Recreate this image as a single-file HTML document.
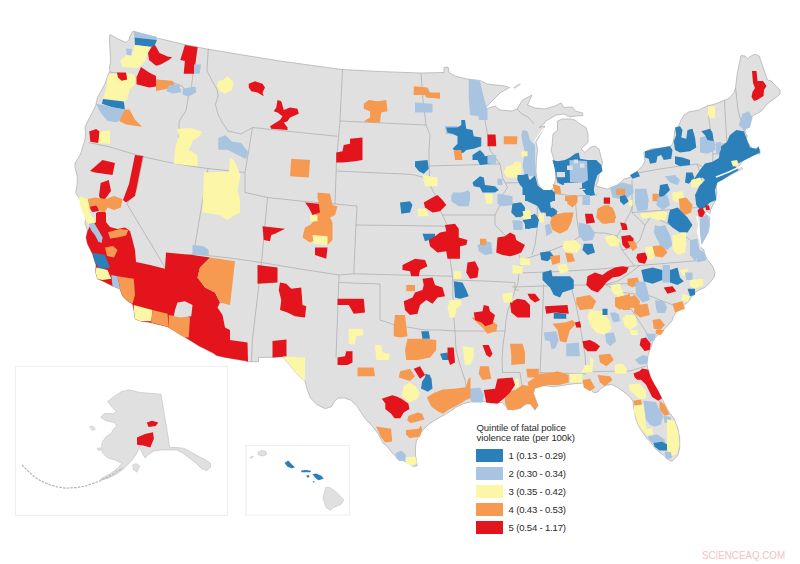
<!DOCTYPE html><html><head><meta charset="utf-8"><title>Map</title><style>html,body{margin:0;padding:0;background:#fff;}body{width:800px;height:564px;overflow:hidden;position:relative;font-family:"Liberation Sans",Arial,sans-serif;}svg{position:absolute;left:0;top:0;}</style></head><body>
<svg width="800" height="564" viewBox="0 0 800 564">
<polygon points="110,34.5 118,39 126,42.5 129,40 130,36 133,31 155,37.5 182,44 207,49 243,55 280,61 342,69.5 380,71.5 420,73 444,72.5 444,67.5 448,67 449,72.5 455,76 467,79 480,80.5 487.5,84 505,86 509.5,87.5 500,93 492,101 484,109.5 495,106 500,110 512,111 517,109 520,104 522.5,100 532,95 527.5,105 535,108 545,109 555,106 561,103 564,107.5 572.5,107 575,111 582.5,113 583,115.6 575,116 570,117 564,114 556,115 551,118 546,121 544,124 539,127.5 545,126 540,135 536,142 537.7,150 536.4,158.9 536,172 537.7,182.8 541.3,189 544.8,192.6 548.4,192.6 553.7,187.2 555.5,179.3 556,167.7 553.7,158.9 551,150 552,146 553,134 557.5,130 557.5,121 562.5,119 566,119 570,119 575,120 580,124 586,127.5 588,134 588,142.5 584,146 581,149 585,152.5 590,147.5 595,146 599,149 600.6,155 602.6,163 599.6,171 598,181.5 596,186 601,187.5 607.5,189 617.5,185 624,179 630,177.5 632.5,174 637.5,171 642.5,166 645,161 643.75,152.5 651,149 661,148 671,146 673,143 674,137.5 675,130 679,125 681,120 684,115 688.6,112 699,110 707,106 715,104 727.5,99 730,97.5 734,92.5 735.6,87.5 737,75 739,65 741,55.6 745,56 747.5,58.75 752.5,55 756,54.4 759,56 761,61 764,70 767.5,80 771,81 775,85 780,90 780,94 776,97.5 771,101 766,105 762.5,110 759,112.5 752.5,116 749,121 745.6,127.5 745,132.5 747.5,136 745,140 749,144 752.5,149 756,150 758,147.5 760,150 760,154 756,154 751,155 747.5,157.5 742.5,161 740,165 737.5,167.5 734,170 729,171.5 722,174.5 717,177.5 715,180 716,185.3 717,193.3 715.6,200.4 712.5,205.7 710.7,210 709.8,213.7 707,211 704.5,213.5 709.8,217.2 709,224.3 708,230 707.5,232.5 705,237.5 703,241 701,245 701,247.5 704,250 704,252.5 707.5,260 712.5,266 715,272.5 714,277.5 710,282.5 705,287.5 699,290 695,292.5 691,297.5 687.5,302.5 681,307.5 676,312.5 673,317.5 672.5,320 667.5,326 662.5,331 657.5,335 654,339 652.5,342.5 651,347.5 649,352.5 647.5,357.5 647,364 648,370 649,375 650.5,381.5 656.3,391.2 662.2,399 668,410.7 673.9,418.5 677.8,428.3 679.7,438 679.7,447.8 677.8,455.6 671.9,461.4 668,459.5 664,455.6 656.3,449.7 650.5,442 646.6,438 642.7,432.2 638.8,426.3 635.8,418.5 633.9,408.8 632.9,401 629,396 623,391.2 617.3,387.3 611.5,384.4 605.6,385.4 599.8,389.3 598,392 593.5,392.75 589,386 583,383 574,383.75 568,384.5 559,386 553,386.75 547,386 541,385 535,387.5 533.5,393.5 538,405.5 535,410 530.5,404 526,404 520,408.5 512.5,410 506.5,407 502,402.5 496,402.5 490,403 486.4,402 479.3,401 470.4,402 463.3,403.7 456.2,407.2 451,410.8 445.6,414.3 440.3,417 433.2,421.4 427.9,425 422.6,430.3 419,435.6 416.3,441 415.5,448 415.5,455 416.3,460.4 417.2,465.7 413.7,466.6 406.6,462.2 399.5,458.7 392.4,453.3 387,446.2 383,443 378.5,434.3 372,425.7 365.7,419.4 361.5,413 357.2,406.6 350.9,400.2 344.5,398 338,398 333.8,402.3 331.7,406.6 325.3,408.7 316.8,404.5 310.4,398 307.2,389.6 305,381 297.7,374.7 291.3,367 282.8,356.6 272.5,357.4 258.5,357.4 258.5,361.75 248,361.75 246,361 225,357.4 216.5,355.6 213,353 199,346 185,337.25 167.5,326.75 150,322.5 140,321 135,319 134,311 132.5,304 127.5,301 122.5,296 120,289 112.5,286 102.5,281 97.5,279 95.6,272.5 96,265 94,259 92.5,254 90,249 87.5,244 86,237.5 87.5,231 85,223 86,217 84,211 82.5,205 80,199 77.5,196 75.6,192.5 77,186 77.5,177.5 75,167.5 75,163 77,160 80,155 81,152.5 83,146 85,140 85.6,132.5 85,127.5 87,122.5 91,115 95.6,106 97.5,97.5 101,91 105,83.75 108,75 110,71 109.4,66.9 110.6,62.5 110,50 109.4,40" fill="#e0e0e0" stroke="#acacac" stroke-width="0.7"/>
<polygon points="513.5,87.5 519,83.8 520.5,84.5 515,88.3" fill="#e0e0e0" stroke="#acacac" stroke-width="0.4"/>
<polygon points="716,178 728,173 740.5,167 743,168.5 730,175.5 717,181.5" fill="#e0e0e0" stroke="#acacac" stroke-width="0.5"/>
<polyline points="109.5,72 122,73.5 135,76 154,79.6 172,82 182,86 189,95" fill="none" stroke="#a9a9a9" stroke-width="0.7"/>
<polyline points="197.5,46.5 193,74 191,90 189,95" fill="none" stroke="#a9a9a9" stroke-width="0.7"/>
<polyline points="189,95 188.3,96.8 186,110.7 181,118 179,122 179,134 177,160" fill="none" stroke="#a9a9a9" stroke-width="0.7"/>
<polyline points="88.75,142.5 110,147 130,153 144,157 172,163 190,166 208,168.5 245,172.5" fill="none" stroke="#a9a9a9" stroke-width="0.7"/>
<polyline points="143.5,155.8 136.5,190 127,204 165.4,268" fill="none" stroke="#a9a9a9" stroke-width="0.7"/>
<polyline points="165.4,268 167,256 180,256 193.5,254" fill="none" stroke="#a9a9a9" stroke-width="0.7"/>
<polyline points="208,168.5 193.5,254" fill="none" stroke="#a9a9a9" stroke-width="0.7"/>
<polyline points="193.5,254 230,258 261.5,262.5" fill="none" stroke="#a9a9a9" stroke-width="0.7"/>
<polyline points="267.5,197.5 261.5,262.5 252.4,340 251.5,361.5" fill="none" stroke="#a9a9a9" stroke-width="0.7"/>
<polyline points="245,172.5 245,192.5 267.5,197.5" fill="none" stroke="#a9a9a9" stroke-width="0.7"/>
<polyline points="252.5,127.5 245,172.5" fill="none" stroke="#a9a9a9" stroke-width="0.7"/>
<polyline points="208.3,48.5 206.9,70.5 212.6,81.8 216.8,88.9 218.2,96 215.4,104.5 218.2,115 222,122 228,131 241,134 252.5,127.5" fill="none" stroke="#a9a9a9" stroke-width="0.7"/>
<polyline points="252.5,127.5 295,132 337.5,136.3" fill="none" stroke="#a9a9a9" stroke-width="0.7"/>
<polyline points="342.5,69.5 340,121 336.5,160 335,204" fill="none" stroke="#a9a9a9" stroke-width="0.7"/>
<polyline points="340,121 383,123 426,125" fill="none" stroke="#a9a9a9" stroke-width="0.7"/>
<polyline points="267.5,197.5 300,201 335,204 357,206" fill="none" stroke="#a9a9a9" stroke-width="0.7"/>
<polyline points="336.5,171 380,173 405,174 415,175 423.75,177.5 430,185" fill="none" stroke="#a9a9a9" stroke-width="0.7"/>
<polyline points="421,73 423,100 426,125" fill="none" stroke="#a9a9a9" stroke-width="0.7"/>
<polyline points="426,125 430,135 429,150 429,166 430,185" fill="none" stroke="#a9a9a9" stroke-width="0.7"/>
<polyline points="429,166 465,165 500,164" fill="none" stroke="#a9a9a9" stroke-width="0.7"/>
<polyline points="430,185 435,195 437.5,205 442.5,215 447.5,226" fill="none" stroke="#a9a9a9" stroke-width="0.7"/>
<polyline points="356,225 400,225.5 447.5,226.25" fill="none" stroke="#a9a9a9" stroke-width="0.7"/>
<polyline points="357,206 356,225 353.75,273.75" fill="none" stroke="#a9a9a9" stroke-width="0.7"/>
<polyline points="353.75,273.75 400,275 452.5,276.25" fill="none" stroke="#a9a9a9" stroke-width="0.7"/>
<polyline points="261.5,262.5 300,269 339,275 353.75,273.75" fill="none" stroke="#a9a9a9" stroke-width="0.7"/>
<polyline points="339,275 336,357.5" fill="none" stroke="#a9a9a9" stroke-width="0.7"/>
<polyline points="339,282.5 360,283.3 380,284" fill="none" stroke="#a9a9a9" stroke-width="0.7"/>
<polyline points="380,284 380,320 395,325 410,327.5 425,330 440,330 455,331" fill="none" stroke="#a9a9a9" stroke-width="0.7"/>
<polyline points="455,331 456,350 460,365 465,380 468,400" fill="none" stroke="#a9a9a9" stroke-width="0.7"/>
<polyline points="455,331 480,331 505,331" fill="none" stroke="#a9a9a9" stroke-width="0.7"/>
<polyline points="452.5,276.25 453,300 454,320 455,331" fill="none" stroke="#a9a9a9" stroke-width="0.7"/>
<polyline points="452.5,280 485,281 515,282.5 515,290 519,290" fill="none" stroke="#a9a9a9" stroke-width="0.7"/>
<polyline points="447.5,226.25 447,236 452.5,276.25" fill="none" stroke="#a9a9a9" stroke-width="0.7"/>
<polyline points="442.5,215 470,215 495,215" fill="none" stroke="#a9a9a9" stroke-width="0.7"/>
<polyline points="500,164 502.5,177.5 507.5,187.5 502.5,195 500,205 495,215 495,225 505,235 513.75,240 517.5,250 521,261 519,272 518,283 515,290 512,300 508,310 506,320 505,331 503,345 502,360 502.5,372.5 520,372.5 522.5,390" fill="none" stroke="#a9a9a9" stroke-width="0.7"/>
<polyline points="543.75,284 542,330 540,372.5 539,386" fill="none" stroke="#a9a9a9" stroke-width="0.7"/>
<polyline points="570,282 576,305 580,325 585,355 586,372" fill="none" stroke="#a9a9a9" stroke-width="0.7"/>
<polyline points="540,372.5 586,374" fill="none" stroke="#a9a9a9" stroke-width="0.7"/>
<polyline points="586,372 600,371.5 630,371 646,366" fill="none" stroke="#a9a9a9" stroke-width="0.7"/>
<polyline points="512,287 560,285.5 605,284.5 630,283.5" fill="none" stroke="#a9a9a9" stroke-width="0.7"/>
<polyline points="519,273 560,271.5 600,269 640,265.5 705,260" fill="none" stroke="#a9a9a9" stroke-width="0.7"/>
<polyline points="640,265.5 630,273 618,281 605,284.5" fill="none" stroke="#a9a9a9" stroke-width="0.7"/>
<polyline points="520,260 528,258 540,254 552,250 565,245 572,242 580,236 588,230 597,233 605,233 617,236 622,228 625,222 630,213 633,205" fill="none" stroke="#a9a9a9" stroke-width="0.7"/>
<polyline points="537.5,193 537,230 535,245 532,255" fill="none" stroke="#a9a9a9" stroke-width="0.7"/>
<polyline points="575,196 577,220 580,238" fill="none" stroke="#a9a9a9" stroke-width="0.7"/>
<polyline points="548,193 575,196 597,195" fill="none" stroke="#a9a9a9" stroke-width="0.7"/>
<polyline points="632,180 632,212.5" fill="none" stroke="#a9a9a9" stroke-width="0.7"/>
<polyline points="632,212.5 665,210 697.5,207.5" fill="none" stroke="#a9a9a9" stroke-width="0.7"/>
<polyline points="637,173 660,169 680,166 697,164" fill="none" stroke="#a9a9a9" stroke-width="0.7"/>
<polyline points="697,164 702,178 696,195 700,207" fill="none" stroke="#a9a9a9" stroke-width="0.7"/>
<polyline points="697,164 712,172" fill="none" stroke="#a9a9a9" stroke-width="0.7"/>
<polyline points="712,172 713,155 712,145 707.5,106" fill="none" stroke="#a9a9a9" stroke-width="0.7"/>
<polyline points="724.5,100.5 725.5,120 727,143.5" fill="none" stroke="#a9a9a9" stroke-width="0.7"/>
<polyline points="712,145 727,143.5 742,140" fill="none" stroke="#a9a9a9" stroke-width="0.7"/>
<polyline points="735.6,87.5 738,110 742,125 745,133" fill="none" stroke="#a9a9a9" stroke-width="0.7"/>
<polyline points="713,154 733,152.5" fill="none" stroke="#a9a9a9" stroke-width="0.7"/>
<polyline points="733,152.5 733,162" fill="none" stroke="#a9a9a9" stroke-width="0.7"/>
<polyline points="505,183 537,182" fill="none" stroke="#a9a9a9" stroke-width="0.7"/>
<polyline points="517,109 522,114 528,117 534,124" fill="none" stroke="#a9a9a9" stroke-width="0.7"/>
<polyline points="484,110 485,120 487,132 490,150 497,160 500,164" fill="none" stroke="#a9a9a9" stroke-width="0.7"/>
<polyline points="701,215 701,232 708,232" fill="none" stroke="#a9a9a9" stroke-width="0.7"/>
<polyline points="620,292 650,296 660,300 680,307.5" fill="none" stroke="#a9a9a9" stroke-width="0.7"/>
<polyline points="620,292 633,312 645,330 650,340" fill="none" stroke="#a9a9a9" stroke-width="0.7"/>
<polyline points="605,284.5 620,292" fill="none" stroke="#a9a9a9" stroke-width="0.7"/>
<polyline points="617,236 622,250 634,265.5" fill="none" stroke="#a9a9a9" stroke-width="0.7"/>
<polyline points="632,212.5 645,225 652,215 660,220 670,225 680,232 690,240 698,245" fill="none" stroke="#a9a9a9" stroke-width="0.7"/>
<polyline points="645,225 640,240 632,248 622,250" fill="none" stroke="#a9a9a9" stroke-width="0.7"/>
<polygon points="133.5,31.3 156,36.5 157,40 134.5,37.5" fill="#a8c4e0"/>
<polygon points="134.5,37.5 157,40 154,47 135,45" fill="#2b80ba"/>
<polygon points="135.3,45 151.4,47.3 148,53 146.8,56 144.5,62.3 137.6,68 122.6,66.9 120.3,61.1 126.1,55.4 133,51.9 134.2,46.1" fill="#fcf7a6"/>
<polygon points="126,48.4 131.9,49 131.5,55.4 127,55" fill="#a8c4e0"/>
<polygon points="151.4,47.3 155,45 159.5,53 167.6,56.5 172.2,57.2 168.7,60 160.7,64.6 156,65.7 149.1,60 148,53" fill="#e3141c"/>
<polygon points="184.9,45 197.5,47.3 194.1,73.8 183.7,73.8 184.9,61.1 180.3,60" fill="#e3141c"/>
<polygon points="194,64.6 201,64.6 199.8,73.8 194,73.8" fill="#a8c4e0"/>
<polygon points="110,74 118,73.5 126.1,72.6 135.3,74.9 135.3,84.2 129.5,89.9 127.2,99.1 123.8,101.4 103,99.1 106.5,87.6 107.7,76.1" fill="#fcf7a6"/>
<polygon points="141,66.9 149.1,72.6 156,76.1 156,86.5 149.1,87.6 136.5,84.2 136.5,77.2" fill="#e3141c"/>
<polygon points="156,79.6 172.2,80.7 174.5,84.2 167.6,88.8 156,91.1" fill="#f59a50"/>
<polygon points="168.7,85.3 179.1,84.2 181.4,92.2 172.2,93.4 166.4,91.1" fill="#a8c4e0"/>
<polygon points="182.6,88.8 195.2,86.5 196.4,92.2 188.3,96.8 182.6,94.5" fill="#a8c4e0"/>
<polygon points="116.9,72.6 126.1,72.6 127.2,79.6 121.5,80.7 118,77.2" fill="#e3141c"/>
<polygon points="103,99.1 123.8,101.4 124.9,109.5 112.3,107.2 101.9,103.7" fill="#2b80ba"/>
<polygon points="96.1,103.7 103,104.9 112.3,107.2 124.9,109.5 122.6,116.4 116.9,122.2 107.7,121 100.7,113" fill="#a8c4e0"/>
<polygon points="124.9,109.5 129.5,109.5 135.3,119.9 142.2,126.8 126.1,124.5 119.2,121" fill="#f59a50"/>
<polygon points="89.2,131.4 96.1,129.1 99.6,131.4 98.4,142.9 90.4,141.8" fill="#e3141c"/>
<polygon points="99.6,131.4 110,130.3 110,144.1 98.4,142.9" fill="#fcf7a6"/>
<polygon points="218.3,80.7 224,79.6 227.5,76.1 233.3,81.9 232.1,89.9 225.2,93.4 219.4,91.1 217.1,85.3" fill="#fcf7a6"/>
<polygon points="176.8,129.1 190.6,128 202.1,131.4 199.8,136 192.9,140.6 188.75,150 197.5,155 197.5,166.25 185,165 173.75,163.75 175,152.5 175.6,145.2 179.1,136" fill="#fcf7a6"/>
<polygon points="218.3,138.3 225.2,134.9 232.1,141.8 241.3,142.9 248.2,152.1 245.9,159 236.7,154.5 227.5,149.8 218.3,149.8" fill="#a8c4e0"/>
<polygon points="90,171 102.5,160 115,163 112.5,175 95,172.5" fill="#e3141c"/>
<polygon points="135,155 143,156 136,191 135,196 126,202.5 123,200 129,184" fill="#e3141c"/>
<polygon points="100.6,183 108.75,180 111,191 102.5,202.5 99,196" fill="#e3141c"/>
<polygon points="87.5,199 95,197.5 106,199 114,196 122.5,199 121,207.5 114,210 107.5,207.5 104,214 97.5,209 90,210" fill="#f59a50"/>
<polygon points="90,207.5 97,206.5 99,211 92,212" fill="#e3141c"/>
<polygon points="97.5,212.5 106,212.5 105,222.5 97.5,222.5" fill="#e3141c"/>
<polygon points="79,196 87.5,199 90,210 89,217.5 82.5,212.5" fill="#fcf7a6"/>
<polygon points="752,71 756.5,71 757.5,81 763,81 766.5,86 764,90 763.5,96 758,99.5 754,101 751.5,97 752.5,92 755,88 753,83" fill="#e3141c"/>
<polygon points="248.75,83.75 255,81.25 262.5,83.75 265,87.5 262.5,92.5 263.75,96.25 257.5,92.5 251.25,91.25 248.75,87.5" fill="#e3141c"/>
<polygon points="277.5,100 281.25,101.25 283.75,110 290,107.5 297.5,108.75 298.75,113.75 290,117.5 287.5,121.25 283.75,122.5 287.5,127.5 287.5,130 271.25,128.75 270,126.25 280,120 282.5,116.25 277.5,112.5 273.75,111.25 276.25,107.5" fill="#e3141c"/>
<polygon points="363.75,103.75 368.75,100 377.5,101.25 386.25,100 387.5,111.25 381.25,112.5 380,122.5 371.25,122.5 363.75,121.25 370,117.5 370,111.25 363.75,108.75" fill="#f59a50"/>
<polygon points="413.75,86.25 427.5,87.5 430,92.5 440,92.5 440,98.75 426.25,97.5 425,95 413.75,95" fill="#f59a50"/>
<polygon points="415,102.5 432.5,103.75 432.5,112.5 415,112.5" fill="#a8c4e0"/>
<polygon points="350,138.75 362.5,137.5 362.5,160 355,161.25 342.5,162.5 336.25,162.5 336.25,152.5 342.5,151.25 343.75,145 350,143.75" fill="#e3141c"/>
<polygon points="291.25,158.75 310,160 308.75,177.5 290,176.25" fill="#f59a50"/>
<polygon points="415,161.25 427.5,160 428.75,168.75 423.75,173.75 418.75,171.25 415,166.25" fill="#2b80ba"/>
<polygon points="422.5,175 437.5,177.5 437.5,186.25 425,186.25" fill="#fcf7a6"/>
<polygon points="468.75,78.75 480,81.25 483.75,97.5 487.5,110 487.5,120 478.75,120 478.75,116.25 470,115 468.75,97.5" fill="#a8c4e0"/>
<polygon points="445,126 458,126 458,135 446,134" fill="#a8c4e0"/>
<polygon points="461.25,120 465,120 466.25,128.75 472.5,130 473.75,136.25 481.25,137.5 481.25,146.25 473.75,148.75 466.25,150 463.75,152.5 458.75,153.75 452.5,148.75 457.5,143.75 457.5,136.25 452.5,133.75 447.5,132.5 446.25,127.5 457.5,127.5 461.25,125" fill="#2b80ba"/>
<polygon points="453.75,150 461.25,150 462.5,160 455,160" fill="#f59a50"/>
<polygon points="472.5,155 480,150 483.75,153.75 485,156.25 493.75,155 496.25,160 490,163.75 480,165 477.5,160 472.5,160" fill="#2b80ba"/>
<polygon points="487.5,134.5 495.5,134.5 496.25,146.25 487.5,146.25" fill="#e3141c"/>
<polygon points="503.75,136.25 517.5,136.25 517,144.25 503.75,144.25" fill="#f59a50"/>
<polygon points="522.5,130 527.5,131.25 530,140 535,145 535,160 536.25,175 525,177.5 522.5,165 525,152.5 522.5,142.5 521.25,135" fill="#a8c4e0"/>
<polygon points="521.25,151.25 527.5,151.25 527.5,156.25 521.25,156.25" fill="#fcf7a6"/>
<polygon points="506.25,166.25 512.5,165 515,161.25 521.25,162.5 521.25,172.5 516.25,177.5 507.5,177.5 503.75,172.5" fill="#fcf7a6"/>
<polygon points="518.75,175 525,175 530,180 535,175 537.5,185 542.5,192.5 555,193.75 555,201 525,201 525,190 520,185 517.5,180" fill="#2b80ba"/>
<polygon points="472.5,182.5 480,176.25 483.75,177.5 485,185 495,186.25 498.75,190 495,192.5 482.5,192.5 480,187.5 473.75,186.25" fill="#2b80ba"/>
<polygon points="452.5,192.5 470,192.5 470,201 452.5,201" fill="#a8c4e0"/>
<polygon points="497.5,178.75 502.5,178.75 502.5,185 497.5,185" fill="#a8c4e0"/>
<polygon points="552.5,160 557.5,161.25 565,160 570,157.5 575,153.75 578.75,152.5 580,158.75 587.5,160 592.5,160 596.25,160 601.25,165 602.5,171.25 597.5,175 595,182.5 593.75,190 593.75,195 587.5,195 585,188.75 580,188.75 575,185 567.5,183.75 562.5,185 557.5,182.5 556.25,177.5 555,170" fill="#2b80ba"/>
<polygon points="569.5,160 587,161 588,180 583,183 570,182" fill="#a8c4e0"/>
<polygon points="556.7,172 565,172 565,177.2 556.7,177.2" fill="#e0e0e0"/>
<polygon points="567,165.5 572.7,165.5 572.7,170 567,170" fill="#e0e0e0"/>
<polygon points="573.7,159.5 578,159.5 578,163.4 573.7,163.4" fill="#e0e0e0"/>
<polygon points="580,163.4 584.4,163.4 584.4,167.7 580,167.7" fill="#e0e0e0"/>
<polygon points="564,183 582,182.5 582,188 565,188.5" fill="#e0e0e0"/>
<polygon points="565,196 577.5,196 577.5,201 565,201" fill="#f59a50"/>
<polygon points="645,151.25 655,148.75 662.5,147.5 670,146.25 672.5,150 671.25,158.75 663.75,160 661.25,155 657.5,156.25 656.25,162.5 650,163.75 648.75,158.75 645,157.5" fill="#2b80ba"/>
<polygon points="675,127.5 680,126.25 682.5,130 681.25,137.5 686.25,138.75 687.5,130 692.5,128.75 695,137.5 696.25,147.5 690,151.25 680,152.5 675,150 673.75,141.25 676.25,135" fill="#2b80ba"/>
<polygon points="675,156.25 682.5,157.5 690,160 690,165 680,166.25 675,163.75" fill="#2b80ba"/>
<polygon points="700,137.5 710,135 715,142.5 715,150 707.5,153.75 700,152.5" fill="#a8c4e0"/>
<polygon points="701.25,131.25 710,128.75 712.5,132.5 713.75,141.25 707.5,140 705,135" fill="#2b80ba"/>
<polygon points="707.5,106.25 715,106.25 715,117.5 710,118.75 707.5,113.75" fill="#fcf7a6"/>
<polygon points="742.5,113.75 748.75,111.25 752.5,117.5 750,127.5 743.75,130 738.75,125" fill="#a8c4e0"/>
<polygon points="730,135 736.25,130 743.75,131.25 746.25,137.5 750,147.5 756.25,148.75 758.75,146.25 760,152.5 750,157.5 740,162.5 735,166.25 738.75,170 730,175 722.5,180 717.5,182.5 715,190 716.25,200 710,202.5 705,207.5 700,210 696.25,205 695,195 700,185 705,180 702.5,177.5 695,180 692.5,172.5 686.25,172.5 685,182.5 688.75,183.75 695,177.5 700,170 705,163.6 712,162 719,158 720,147 727,142 729.4,136" fill="#2b80ba"/>
<polygon points="731,161 737,160 739,165 733,166.5" fill="#fcf7a6"/>
<polygon points="716,142.5 721,142 721,150 717,155 715.5,150" fill="#a8c4e0"/>
<polygon points="691.25,180 700,177.5 702.5,182.5 697.5,187.5 691.25,187.5" fill="#fcf7a6"/>
<polygon points="665,176.25 675,175 680,180 677.5,185 670,182.5" fill="#a8c4e0"/>
<polygon points="660,185 667.5,183.75 670,190 665,195 661.25,200 658.75,195" fill="#2b80ba"/>
<polygon points="652.5,193.75 658.75,193.75 658.75,201.25 652.5,201.25" fill="#f59a50"/>
<polygon points="635,188.75 646.25,188.75 648.75,200 647.5,210 637.5,211.25 635,202.5" fill="#a8c4e0"/>
<polygon points="610,187.5 622.5,182.5 632.5,185 633.75,192.5 625,200 612.5,197.5" fill="#a8c4e0"/>
<polygon points="616.25,188.75 625,188.75 625,195 616.25,195" fill="#f59a50"/>
<polygon points="620,196.25 625,195 628.75,201.25 623.75,205 620,201.25" fill="#2b80ba"/>
<polygon points="628.75,200 632.5,200 632.5,206.25 628.75,206.25" fill="#fcf7a6"/>
<polygon points="630,175 637.5,171.25 640,176.25 632.5,178.75" fill="#2b80ba"/>
<polygon points="600,207.5 608.75,205 615,212.5 615,222.5 605,223.75 600,220" fill="#f59a50"/>
<polygon points="603.75,197.5 610,197.5 610,203.75 603.75,203.75" fill="#e3141c"/>
<polygon points="621.25,222.5 626.25,223.75 627.5,228.75 622.5,230" fill="#e3141c"/>
<polygon points="640,213.75 652.5,212.5 662.5,211.25 667.5,212.5 665,220 657.5,220 650,217.5 642.5,218.75" fill="#fcf7a6"/>
<polygon points="672.5,192.5 682.5,191.25 685,200 677.5,202.5 672.5,200" fill="#fcf7a6"/>
<polygon points="678.75,198.75 686.25,197.5 692.5,205 691.25,212.5 685,215 680,210" fill="#f59a50"/>
<polygon points="670,210 677.5,207.5 682.5,212.5 687.5,217.5 692.5,225 687.5,232.5 680,232.5 672.5,227.5 667.5,222.5 668.75,215" fill="#2b80ba"/>
<polygon points="697.5,210 702.5,207.5 705,212.5 702.5,217.5 698.75,216.25" fill="#e3141c"/>
<polygon points="705,205 709,205.5 710,210 706,210" fill="#e3141c"/>
<polygon points="700.5,217.5 707.5,215 710,225 708.5,232.5 705,239 701.5,245 700,235 700,225" fill="#a8c4e0"/>
<polygon points="655,225 662.5,227.5 667.5,235 657.5,240 653.75,232.5" fill="#a8c4e0"/>
<polygon points="680,232.5 686,232.5 686,240 680,240" fill="#fcf7a6"/>
<polygon points="204,172.5 229,171.5 230,157.5 234,160 237,167 240.5,175 239,183 237.5,190 240,200 240,212.5 235,215 227,220 220,215 202.5,212.5 203,195" fill="#fcf7a6"/>
<polygon points="262.5,226.25 285,228.75 275,233.75 271.25,235 270,241.25 263.75,240" fill="#e3141c"/>
<polygon points="317.5,192.5 330,193.75 332.5,205 337.5,206.25 335,215 330,217.5 332.5,222.5 332.5,240 327.5,245 315,240 310,242.5 302.5,237.5 305,227.5 310,225 315,220 316.25,210 318.75,202.5 317.5,197.5" fill="#f59a50"/>
<polygon points="305,202.5 318.75,203.75 320,212.5 312.5,215 308.75,207.5" fill="#e3141c"/>
<polygon points="310,215 317.5,215 317.5,221.25 310,221.25" fill="#fcf7a6"/>
<polygon points="312.5,235 327.5,236.25 327.5,245 313.75,243.75" fill="#fcf7a6"/>
<polygon points="315,247.5 327.5,247.5 326.25,258.75 315,255" fill="#e3141c"/>
<polygon points="192.5,245 203.75,246.25 208.75,250 208.75,255 192.5,255" fill="#a8c4e0"/>
<polygon points="96,213 106,213 106,222 110,227 117.5,229 125,227.5 130,231 132.5,240 135,250 136,262 150,265 165,268.75 166,252.5 192.5,255 210,257.5 200,267.5 197.5,277.5 205,287.5 215,292.5 220,302.5 217.5,307.5 222.5,315 225,327.5 230,330 230,340 247.5,342.5 248,361.75 246,361 225,357.4 216.5,355.6 213,353 199,346 185,337.25 167.5,326.75 150,322.5 140,321 135,319 134,311 132.5,304 127.5,301 122.5,296 120,289 112.5,286 102.5,281 97.5,279 95.6,272.5 96,265 94,259 92.5,254 90,249 87.5,244 86,237.5 87.5,231 90,226 96,222" fill="#e3141c"/>
<polygon points="79.3,198.2 87.8,199.3 87.8,211 96.3,221.6 91,225.9 86.7,222.7 83.5,214.1 80,205" fill="#fcf7a6"/>
<polygon points="89.9,206.7 96.3,205.6 98.4,209.9 93.1,212" fill="#e3141c"/>
<polygon points="97.3,212 104.8,212 105.9,221.6 100.5,225.9 97.3,221.6" fill="#e3141c"/>
<polygon points="88.8,223.7 94.1,222.7 98.4,230.1 102.7,237.6 101.6,242.9 98.4,241.8 95.2,235.4 91,230.1" fill="#a8c4e0"/>
<polygon points="108,232.2 119.7,229 128.2,230.1 126.1,235.4 117.6,237.6 110.1,238.6" fill="#f59a50"/>
<polygon points="105,247.5 113,246 117.5,250 114,257.5 107,256" fill="#f59a50"/>
<polygon points="92.5,252.5 105,255 110,267.5 100,270 95,262.5" fill="#2b80ba"/>
<polygon points="96.25,267.5 107.5,270 111.25,278.75 102.5,280 97.5,279 95.6,272.5" fill="#fcf7a6"/>
<polygon points="111.25,275 117.5,276.25 120,287.5 120,289 112.5,286.25" fill="#a8c4e0"/>
<polygon points="117.5,276.25 133.75,278.75 135,295 132.5,303.75 127.5,301 122.5,296 120,289 120,287.5" fill="#f59a50"/>
<polygon points="133.75,305 152.5,310 151.25,321.25 140,321 135,319 134,311" fill="#fcf7a6"/>
<polygon points="152.5,310 167.5,313.75 168.75,327.5 167.5,326.75 151.25,322.5 151.25,321.25" fill="#f59a50"/>
<polygon points="168.75,315 176.25,316.25 185,315 190,317.5 188.75,337.5 185,337.25 180,335 168.75,327.5" fill="#f59a50"/>
<polygon points="177.5,302.5 185,301.25 192.5,305 191.25,316.25 180,317.5 173.75,316.25 175,310" fill="#e0e0e0"/>
<polygon points="210,257.5 235,261.25 230,305 220,302.5 215,292.5 205,287.5 197.5,277.5 200,267.5" fill="#f59a50"/>
<polygon points="257.5,265 277.5,267.5 277.5,282.5 257.5,283.75" fill="#e3141c"/>
<polygon points="272.5,341 286.5,339.5 286.5,356.5 272.5,357.4" fill="#e3141c"/>
<polygon points="400,202.5 410,201.25 412.5,205 410,212.5 401.25,213.75" fill="#2b80ba"/>
<polygon points="423.75,202.5 432.5,197.5 437.5,195 442.5,200 446.25,205 440,211.25 432.5,212.5 425,207.5" fill="#e3141c"/>
<polygon points="417.5,208.75 426.25,208.75 428.75,216.25 418.75,216.25" fill="#fcf7a6"/>
<polygon points="451.25,195 462.5,192.5 468.75,190 470,197.5 468.75,206.25 458.75,206.25 451.25,201.25" fill="#a8c4e0"/>
<polygon points="485,193.75 492.5,193.75 492.5,203.75 486.25,203.75" fill="#fcf7a6"/>
<polygon points="497.5,195 510,196.25 512.5,203.75 500,206.25" fill="#a8c4e0"/>
<polygon points="512.5,203.75 520,202.5 525,207.5 525,215 516.25,217.5 511.25,212.5" fill="#2b80ba"/>
<polygon points="522.5,211.25 530,210 530,221.25 523.75,220" fill="#fcf7a6"/>
<polygon points="512.5,220 522.5,221.25 522.5,230 513.75,230" fill="#a8c4e0"/>
<polygon points="525,222.5 530,221.25 530,228.75 525,228.75" fill="#2b80ba"/>
<polygon points="522.5,180 530,180 530,195 522.5,195" fill="#2b80ba"/>
<polygon points="422.5,233.75 435,233.75 435,241.25 428.75,240 425,241.25" fill="#2b80ba"/>
<polygon points="445,225 455,223.75 458.75,228.75 458.75,237.5 467.5,240 466.25,245 460,246.25 460,258.75 447.5,258.75 446.25,251.25 437.5,252.5 430,246.25 428.75,240 435,236.25 440,232.5 446.25,231.25" fill="#e3141c"/>
<polygon points="477.5,245 486.25,241.25 491.25,242.5 492.5,253.75 485,255 478.75,251.25" fill="#a8c4e0"/>
<polygon points="480,238.75 486.25,238.75 486.25,245 480,245" fill="#f59a50"/>
<polygon points="497.5,237.5 505,236.25 510,232.5 515,235 516.25,240 525,245 521.25,252.5 515,255 510,256.25 502.5,255 496.25,252.5" fill="#e3141c"/>
<polygon points="402.5,265 415,258.75 425,260 427.5,266.25 420,270 418.75,276.25 411.25,276.25 410,271.25 402.5,270" fill="#e3141c"/>
<polygon points="467.5,262.5 475,261.25 478.75,268.75 477.5,277.5 470,278.75 466.25,272.5" fill="#e3141c"/>
<polygon points="453.75,271.25 461.25,271.25 461.25,278.75 453.75,278.75" fill="#fcf7a6"/>
<polygon points="453.75,281.25 462.5,282.5 466.25,290 468.75,296.25 460,298.75 455,297.5" fill="#2b80ba"/>
<polygon points="450,300 461.25,300 461.25,305 456.25,308.75 455,317.5 450,317.5 447.5,307.5" fill="#fcf7a6"/>
<polygon points="422.5,278.75 432.5,277.5 435,285 442.5,287.5 445,296.25 437.5,297.5 432.5,303.75 426.25,300 420,305 417.5,313.75 410,315 405,310 403.75,301.25 412.5,297.5 415,292.5 422.5,290 423.75,285" fill="#e3141c"/>
<polygon points="406.25,285 415,285 415,291.25 406.25,291.25" fill="#f59a50"/>
<polygon points="337.5,298.75 363.75,298.75 365,312.5 353.75,313.75 348.75,305 337.5,305" fill="#e3141c"/>
<polygon points="510,302.5 517.5,298.75 525,300 530,305 530,317.5 517.5,317.5 511.25,312.5" fill="#e3141c"/>
<polygon points="502.5,293.75 512.5,292.5 512.5,302.5 503.75,302.5" fill="#fcf7a6"/>
<polygon points="512.5,265 522.5,266.25 522.5,273.75 512.5,273.75" fill="#fcf7a6"/>
<polygon points="520,257.5 530,258.75 530,265 520,265" fill="#fcf7a6"/>
<polygon points="280,282.5 286.25,283.75 291.25,288.75 301.25,287.5 302.5,305 306.25,306.25 305,317.5 295,316.25 287.5,312.5 280,310 281.25,300 278.75,290" fill="#e3141c"/>
<polygon points="282.8,356.6 305,357.5 305,381 297.7,374.7 291.3,367" fill="#fcf7a6"/>
<polygon points="348.75,328.75 362.5,328.75 363.75,335 356.25,336.25 355,343.75 348.75,343.75" fill="#fcf7a6"/>
<polygon points="375,345 381.25,345 382.5,352.5 390,353.75 388.75,360 376.25,360" fill="#fcf7a6"/>
<polygon points="337.5,357.5 345,356.25 346.25,351.25 352.5,351.25 352.5,362.5 347.5,365 337.5,365" fill="#e3141c"/>
<polygon points="357.5,367.5 373.75,367.5 375,376.25 357.5,376.25" fill="#f59a50"/>
<polygon points="395,315 405,315 406.25,326.25 407.5,336.25 400,337.5 393.75,336.25 393.75,326.25" fill="#f59a50"/>
<polygon points="407.5,338.75 425,338.75 436.25,340 436.25,350 430,357.5 417.5,360 406.25,360 405,350" fill="#f59a50"/>
<polygon points="421.25,331.25 428.75,331.25 430,338.75 422.5,338.75" fill="#2b80ba"/>
<polygon points="440,353.75 447.5,352.5 448.75,360 442.5,360" fill="#2b80ba"/>
<polygon points="400,371.25 410,368.75 415,376.25 410,381 398.75,377.5" fill="#f59a50"/>
<polygon points="413.75,368.75 420,366.25 425,375 420,378.75" fill="#e3141c"/>
<polygon points="425,373.75 430,375 431.25,381 426.25,381" fill="#2b80ba"/>
<polygon points="471.25,317.5 477.5,317.5 481.25,322.5 483.75,326.25 491.25,320 497.5,325 496.25,331.25 487.5,333.75 483.75,328.75" fill="#f59a50"/>
<polygon points="473.75,312.5 482.5,311.25 483.75,305 488.75,306.25 490,311.25 495,315 492.5,323.75 485,326.25 481.25,322.5 475,320" fill="#e3141c"/>
<polygon points="527.5,293.75 535,293.75 540,300 535,302.5 530,298.75" fill="#e3141c"/>
<polygon points="545,306.25 567.5,305 568.75,313.75 555,312.5 546.25,313.75" fill="#e3141c"/>
<polygon points="553.75,312.5 566.25,313.75 566.25,318.75 553.75,318.75" fill="#2b80ba"/>
<polygon points="576.25,297.5 590,295 596.25,301.25 592.5,308.75 580,310 576.25,303.75" fill="#f59a50"/>
<polygon points="590,310 602.5,311.25 610,321.25 611.25,328.75 605,335 596.25,332.5 590,325 587.5,316.25" fill="#fcf7a6"/>
<polygon points="602.5,308.75 607.5,308.75 607.5,315 602.5,315" fill="#2b80ba"/>
<polygon points="610,312.5 616.25,312.5 618.75,320 612.5,321.25" fill="#a8c4e0"/>
<polygon points="605,333.75 613.75,332.5 616.25,341.25 610,346.25 606.25,342.5" fill="#a8c4e0"/>
<polygon points="616.25,293.75 622.5,290 623.75,295 620,301.25" fill="#fcf7a6"/>
<polygon points="617.5,297.5 630,293.75 630,310 622.5,310 620,305" fill="#f59a50"/>
<polygon points="622.5,317.5 630,316.25 630,327.5 625,327.5" fill="#fcf7a6"/>
<polygon points="552.5,323.75 565,322.5 572.5,320 576.25,323.75 570,330 566.25,342.5 560,341.25 557.5,330" fill="#f59a50"/>
<polygon points="575,322.5 580,321.25 581.25,327.5 576.25,327.5" fill="#e3141c"/>
<polygon points="543.75,332.5 556.25,331.25 558.75,340 555,348.75 551.25,348.75 550,341.25 545,340" fill="#a8c4e0"/>
<polygon points="566.25,343.75 578.75,342.5 580,356.25 566.25,356.25" fill="#a8c4e0"/>
<polygon points="582.5,341.25 590,340 595,342.5 600,346.25 596.25,351.25 587.5,351.25 583.75,347.5" fill="#e3141c"/>
<polygon points="598.75,355 610,353.75 613.75,360 606.25,366.25 600,362.5" fill="#f59a50"/>
<polygon points="585,365 592.5,365 592.5,372.5 581.25,372.5" fill="#fcf7a6"/>
<polygon points="615,367.5 623.75,365 625,371.25 616.25,372.5" fill="#fcf7a6"/>
<polygon points="597.5,375 610,376.25 612.5,380 605,386.25 600,382.5" fill="#f59a50"/>
<polygon points="582.5,380 590,378.75 595,387.5 590,391.25 583.75,387.5" fill="#f59a50"/>
<polygon points="570,373.75 582.5,373.75 582.5,382.5 570,382.5" fill="#fcf7a6"/>
<polygon points="527.5,382.5 540,373.75 552.5,372.5 557.5,371.25 568.75,375 568.75,382.5 558.75,385 547.5,385 538.75,387.5 530,390" fill="#f59a50"/>
<polygon points="505,392.5 515,390 522.5,385 530,386 535,387.5 533.5,393.5 538,405.5 535,410 530.5,404 526,404 520,408.5 512.5,410 507.5,410 505,402.5" fill="#f59a50"/>
<polygon points="497.5,378.75 512.5,377.5 515,385 510,392.5 505,397.5 497.5,403.75 486.25,402.5 483.75,390 495,388.75" fill="#e3141c"/>
<polygon points="515,378.75 518.75,378.75 518.75,387.5 515,387.5" fill="#fcf7a6"/>
<polygon points="468.75,388.75 480,387.5 483.75,395 482.5,402.5 472.5,402.5 468.75,397.5" fill="#a8c4e0"/>
<polygon points="426.8,397.6 433.7,393 442.9,389.5 455.6,388.4 465.9,387.2 468.2,379.2 470.5,376.9 470.5,397.6 465.9,399.9 459,404.5 449.8,409.1 442.9,413.7 438.3,411.4 431.4,406.8" fill="#f59a50"/>
<polygon points="526.25,368.75 538.75,368.75 538.75,377.5 527.5,377.5" fill="#f59a50"/>
<polygon points="510,343.75 522.5,343.75 525,352.5 525,363.75 511.25,365 511.25,355" fill="#f59a50"/>
<polygon points="480,366.25 488.75,366.25 491.25,378.75 482.5,380 478.75,373.75" fill="#f59a50"/>
<polygon points="482.5,345 488.75,345 492.5,353.75 490,357.5 486.25,355" fill="#e3141c"/>
<polygon points="462.5,346.25 473.75,347.5 473.75,357.5 470,365 465,365 463.75,355" fill="#fcf7a6"/>
<polygon points="447.5,347.5 453.75,347.5 455,362.5 450,365 447.5,357.5" fill="#e3141c"/>
<polygon points="525,190 552.5,190 555,197.5 547.5,205 547.5,212.5 541,212.5 537.5,206 530,202.5 525,200" fill="#2b80ba"/>
<polygon points="545,210 555,208.75 557.5,215 551.25,217.5" fill="#2b80ba"/>
<polygon points="522.5,211.25 530,210 531.25,217.5 523.75,220" fill="#fcf7a6"/>
<polygon points="525,217.5 535,213.75 538.75,220 535,227.5 526.25,227.5" fill="#2b80ba"/>
<polygon points="552.5,215 565,212.5 573.75,212.5 571.25,222.5 567.5,230 560,233.75 552.5,230 550,222.5" fill="#f59a50"/>
<polygon points="566.25,196.25 576.25,195 577.5,202.5 572.5,207.5 567.5,203.75" fill="#f59a50"/>
<polygon points="545,225 550,223.75 552.5,232.5 546.25,236.25" fill="#a8c4e0"/>
<polygon points="582.5,190 593.75,190 595,195 587.5,196.25" fill="#2b80ba"/>
<polygon points="585,213.75 592.5,213.75 595,222.5 586.25,223.75" fill="#e3141c"/>
<polygon points="597.5,208.75 605,205 612.5,207.5 616.25,217.5 612.5,222.5 602.5,223.75 596.25,217.5" fill="#f59a50"/>
<polygon points="578.75,222.5 590,225 595,233.75 592.5,240 583.75,241.25 578.75,235" fill="#a8c4e0"/>
<polygon points="583.75,243.75 592.5,243.75 595,252.5 587.5,255 582.5,250" fill="#2b80ba"/>
<polygon points="563.75,241.25 575,240 581.25,246.25 577.5,252.5 566.25,252.5 562.5,247.5" fill="#fcf7a6"/>
<polygon points="565,252.5 572.5,253.75 575,261.25 567.5,262.5" fill="#f59a50"/>
<polygon points="540,252.5 550,251.25 553.75,256.25 547.5,261.25 541.25,260" fill="#2b80ba"/>
<polygon points="550,256.25 560,255 560,262.5 552.5,265" fill="#f59a50"/>
<polygon points="557.5,265 566.25,263.75 568.75,271.25 560,273.75" fill="#fcf7a6"/>
<polygon points="542.5,272.5 551.25,270 552.5,276.25 570,276.25 573.75,280 573.75,288.75 562.5,292.5 560,297.5 553.75,295 550,287.5 542.5,280" fill="#2b80ba"/>
<polygon points="587.5,276.25 595,272.5 602.5,275 607.5,271.25 615,267.5 622.5,266.25 628.75,267.5 626.25,272.5 620,276.25 612.5,277.5 606.25,282.5 602.5,287.5 597.5,292.5 591.25,290 586.25,285" fill="#e3141c"/>
<polygon points="611.25,285 620,283.75 622.5,292.5 615,295 611.25,290" fill="#fcf7a6"/>
<polygon points="627.5,278.75 637.5,277.5 640,283.75 632.5,287.5 627.5,285" fill="#f59a50"/>
<polygon points="635,282.5 645,281.25 647.5,290 650,300 642.5,302.5 636.25,295" fill="#a8c4e0"/>
<polygon points="641.25,270 652.5,267.5 662.5,270 662.5,280 652.5,283.75 643.75,281.25" fill="#2b80ba"/>
<polygon points="662.5,265 670,265 670,282.5 662.5,282.5" fill="#a8c4e0"/>
<polygon points="670,270 677.5,267.5 680,277.5 683.75,281.25 677.5,285 670,282.5" fill="#2b80ba"/>
<polygon points="680,270 687.5,268.75 687.5,275 682.5,276.25" fill="#fcf7a6"/>
<polygon points="685,272.5 692.5,272.5 692.5,280 686.25,280" fill="#a8c4e0"/>
<polygon points="690,280 702.5,278.75 703.75,285 695,288.75 690,286.25" fill="#fcf7a6"/>
<polygon points="663.75,287.5 672.5,286.25 676.25,291.25 667.5,293.75" fill="#e3141c"/>
<polygon points="687.5,288.75 695,288.75 695,295 690,296.25" fill="#2b80ba"/>
<polygon points="682.5,293.75 690,296.25 687.5,302.5 681.25,300" fill="#fcf7a6"/>
<polygon points="672.5,303.75 682.5,301.25 685,308.75 675,312.5" fill="#f59a50"/>
<polygon points="655,300 663.75,301.25 665,310 656.25,310" fill="#a8c4e0"/>
<polygon points="656,301 664,301 667,308 665,313 657,313" fill="#a8c4e0"/>
<polygon points="627.5,297.5 635,295 640,301.25 638.75,308.75 630,307.5 626.25,303.75" fill="#f59a50"/>
<polygon points="615,297.5 622.5,296.25 625,305 620,310 615,306.25" fill="#f59a50"/>
<polygon points="635,305 647.5,303.75 650,315 640,317.5 633.75,312.5" fill="#f59a50"/>
<polygon points="613,315 618.75,313.75 620,321.25 613.75,322.5" fill="#a8c4e0"/>
<polygon points="625,315 635,315 637.5,325 630,330 625,325" fill="#fcf7a6"/>
<polygon points="652.5,320 660,318.75 665,325 660,330 653.75,328.75" fill="#f59a50"/>
<polygon points="620,222.5 626.25,225 627.5,230 622.5,230" fill="#e3141c"/>
<polygon points="621.25,236.25 630,235 633.75,238.75 632.5,246.25 626.25,248.75 622.5,245" fill="#e3141c"/>
<polygon points="627.5,241.25 635,241.25 637.5,247.5 632.5,251.25" fill="#f59a50"/>
<polygon points="605,236.25 613.75,235 620,240 618.75,246.25 610,246.25 606.25,241.25" fill="#fcf7a6"/>
<polygon points="637.5,253.75 645,252.5 647.5,257.5 645,263.75 638.75,262.5 636.25,257.5" fill="#e3141c"/>
<polygon points="645,247.5 652.5,246.25 656.25,252.5 652.5,260 647.5,258.75" fill="#fcf7a6"/>
<polygon points="652.5,246.25 662.5,245 667.5,252.5 662.5,257.5 655,256.25" fill="#f59a50"/>
<polygon points="655,227.5 665,225 670,235 672.5,245 667.5,250 660,245 656.25,237.5" fill="#a8c4e0"/>
<polygon points="672.5,235 682.5,233.75 686.25,242.5 685,252.5 677.5,255 672.5,248.75" fill="#fcf7a6"/>
<polygon points="690,240 697.5,238.75 700,252.5 695,261.25 690,255" fill="#a8c4e0"/>
<polygon points="695,247.5 705,252.5 706.25,260 697.5,262.5" fill="#a8c4e0"/>
<polygon points="657.5,197.5 667.5,195 670,205 662.5,210 656.25,205" fill="#a8c4e0"/>
<polygon points="645.9,333.7 655.8,333.7 654.6,339.9 649.6,342.4" fill="#a8c4e0"/>
<polygon points="640.9,338.7 645.9,337.5 650.8,343.7 649.6,349.9 644.6,351.1 639.7,344.9" fill="#e3141c"/>
<polygon points="634.7,359.8 643.4,354.8 648.4,357.3 647.1,363.5 639.7,364.8" fill="#a8c4e0"/>
<polygon points="633.5,373.5 639.7,371 642.1,368.5 648.4,369.7 650.8,377.2 654.6,384.6 658.3,390.8 662,398.3 658.3,400.8 652.1,397 648.4,389.6 645.9,384.6 640.9,379.7 637.2,379.7 634.7,377.2" fill="#e3141c"/>
<polygon points="659.5,400.8 664.5,404.5 669.5,414.4 664.5,415.7 659.5,409.5" fill="#f59a50"/>
<polygon points="628.5,384.6 639.7,383.4 645.9,390.8 645.9,398.3 639.7,399.5 634.7,394.6 629.7,390.8" fill="#fcf7a6"/>
<polygon points="633.5,400.8 640.9,399.5 642.1,404.5 634.7,405.7" fill="#f59a50"/>
<polygon points="634.7,405.7 643.4,404.5 644.6,414.4 645.9,424.4 647.1,429.3 643.4,431.8 638.4,424.4 635.9,416.9 633.5,409.5" fill="#fcf7a6"/>
<polygon points="643.4,400.8 655.8,402 659.5,409.5 663.3,415.7 660.8,424.4 654.6,426.8 649.6,424.4 645.9,419.4 644.6,409.5" fill="#a8c4e0"/>
<polygon points="663.3,415.7 670.7,416.9 670.7,421.9 664.5,423.1" fill="#a8c4e0"/>
<polygon points="667,419.4 674.4,420.6 678.2,431.8 679.4,444.2 676.9,454.2 669.5,456.6 667,446.7 667,434.3" fill="#fcf7a6"/>
<polygon points="644.6,429.3 652.1,428.1 653.3,434.3 645.9,435.5" fill="#fcf7a6"/>
<polygon points="647.1,436.8 657,434.3 664.5,439.3 665.7,444.2 658.3,445.5 650.8,441.7" fill="#a8c4e0"/>
<polygon points="653.3,443 662,441.7 667,444.2 667,450.4 659.5,450.4 654.6,446.7" fill="#2b80ba"/>
<polygon points="664.5,451.7 671,452 672,458 666,459" fill="#a8c4e0"/>
<polygon points="614.8,364.8 622.3,363.5 627.2,369.7 626,373.5 614.8,373.5" fill="#fcf7a6"/>
<polygon points="629.7,330 637.2,330 638.4,335 631,335" fill="#fcf7a6"/>
<polygon points="655.8,330 664.5,330 660.8,335 655.8,333.7" fill="#f59a50"/>
<polygon points="590,357.3 593.7,359.8 592.5,367.2 590,367.2" fill="#fcf7a6"/>
<polygon points="422.2,381.5 426.8,374.6 431.4,378 432.5,388.4 427.9,391.8 421,388.4" fill="#2b80ba"/>
<polygon points="403.7,386.1 409.5,382.6 415.3,386.1 419.9,393 417.6,398.8 409.5,402.2 401.4,396.5" fill="#fcf7a6"/>
<polygon points="381.8,398.8 392.2,395.3 396.8,396.5 401.4,398.8 408.3,403.4 409.5,409.1 403.7,412.6 400.3,418.3 394.5,418.3 391.1,413.7 385.3,409.1 385.3,403.4" fill="#e3141c"/>
<polygon points="408.3,416 417.6,412.6 422.2,413.7 424.5,419.5 416.4,421.8 410.6,423 407.2,420.6" fill="#f59a50"/>
<polygon points="406,429.9 418.7,428.7 421,425.3 422.2,429.9 419.9,436.8 409.5,437.9 406,434.5" fill="#f59a50"/>
<polygon points="376.1,426.4 391.1,428.7 392.2,441.4 385.3,442.5 380.7,436.8" fill="#f59a50"/>
<polygon points="395.7,452.9 401.4,450.6 406,455.2 404.9,461 399.1,461 395.7,457.5" fill="#a8c4e0"/>
<polygon points="406,457.5 415.3,456.4 417.1,463.3 411.8,465.6 406,463.3" fill="#fcf7a6"/>
<polygon points="520,181.25 522.5,175 527.5,173.75 530,182.5 536.25,185 540,187.5 547.5,192.5 555,191.25 555,200 550,202.5 551.25,210 543.75,212.5 542.5,206.25 536.25,205 532.5,200 527.5,192.5 525,186.25" fill="#2b80ba"/>
<polygon points="517.5,175 525,175 525,180 517.5,180" fill="#2b80ba"/>
<polygon points="497.5,193.75 505,195 512.5,196.25 512.5,205 503.75,206.25 497.5,203.75" fill="#a8c4e0"/>
<polygon points="512.5,203.75 521.25,202.5 525,207.5 523.75,215 520,217.5 513.75,213.75" fill="#2b80ba"/>
<polygon points="522.5,211.25 530,210 531.25,218.75 525,221.25" fill="#fcf7a6"/>
<polygon points="522.5,220 531.25,218.75 536.25,215 538.75,220 537.5,227.5 527.5,228.75" fill="#2b80ba"/>
<polygon points="538.75,213.75 543.75,213.75 543.75,222.5 540,222.5" fill="#fcf7a6"/>
<polygon points="545,210 552.5,207.5 557.5,211.25 553.75,216.25 546.25,216.25" fill="#2b80ba"/>
<polygon points="512.5,221.25 520,220 521.25,230 513.75,230" fill="#a8c4e0"/>
<polygon points="552.5,184 560,186.25 561.25,193.75 555,193.75" fill="#f59a50"/>
<polygon points="582.5,195 590,195 590,205 582.5,205" fill="#a8c4e0"/>
<polygon points="487.5,155 496.25,155 496.25,163.75 487.5,163.75" fill="#a8c4e0"/>
<polygon points="543.5,127.5 541,131 536,138 533,143.5 534.5,142 538.5,136 544,129" fill="#fff"/>
<polygon points="715.5,176.5 728,171.5 740,166 741,167 729,172.8 716.5,177.8" fill="#fff"/>
<polygon points="696,217 698,224 697,232 699,240 700.5,247.5 702,247 700.5,239 699.5,230 699,222 697.5,216" fill="#fff"/>
<rect x="15.5" y="366.5" width="212" height="149" fill="none" stroke="#eeeeee" stroke-width="1"/>
<rect x="246" y="445.5" width="103.5" height="69.5" fill="none" stroke="#eeeeee" stroke-width="1"/>
<polygon points="107.7,401.3 114.8,396 121.9,391.5 129,389.8 139.7,392.4 150.3,393.3 161,394.2 169.8,447.4 175.1,447.4 184,448.3 189.3,451 198.2,456.3 205.3,459.8 210.6,463.4 210.6,466.9 207,470.5 201.7,468.7 196.4,463.4 189.3,458 182.2,452.7 176.9,450 168,450 161,450 153.9,451 148.5,454.5 145,458 141.4,451 139.7,447.4 136.1,454.5 130.8,461.6 123.7,468.7 116.6,474 107.7,478.4 100.6,480 101,478.5 110,474 118,468 122,463.4 114.8,459.8 107.7,458 102.4,452.7 101.5,447.4 102.4,442 106,436.8 111.3,433.2 113.1,429.7 116.6,426.1 114.8,422.6 106,420.8 100.6,417.2 104.2,413.7 113.1,413.7 116.6,412 111.3,406.6" fill="#e0e0e0" stroke="#bdbdbd" stroke-width="0.6"/>
<polygon points="132.6,465 136,463.4 139.7,466 137,472.2 133.5,470" fill="#e0e0e0" stroke="#bdbdbd" stroke-width="0.5"/>
<polygon points="97,448.3 100.5,447.8 101.5,450 98,450.5" fill="#e0e0e0" stroke="#bdbdbd" stroke-width="0.4"/>
<polygon points="89.5,426.5 93,426 95.5,429.5 92,430.5" fill="#e0e0e0" stroke="#bdbdbd" stroke-width="0.4"/>
<polyline points="22,465 28,471 34.7,477 41,481 49,484.5 57,486.8 65.5,488.2 77.5,487.5 86,485.8 94,483 101,480.5 107.5,477 113,474 118,471 122,468" fill="none" stroke="#b4b4b4" stroke-width="1.2" stroke-dasharray="2.5,1.2"/>
<polygon points="146.8,422.6 152,420.8 158.3,422.6 155.6,426.1 148.5,427" fill="#e3141c"/>
<polygon points="137,437.6 145,434.1 153,432.3 153.9,438.5 150.3,447.4 143.2,445.6 137,444.7" fill="#e3141c"/>
<polygon points="249.8,457.5 252,456 253.6,456.5 251.5,458.6" fill="#e0e0e0" stroke="#bdbdbd" stroke-width="0.4"/>
<polygon points="258,452 262,450.5 266,451.5 266.5,454.5 263,456 258.5,455" fill="#e0e0e0" stroke="#bdbdbd" stroke-width="0.5"/>
<polygon points="284.5,462.9 288.2,460.6 292,464.4 295,467.4 291.3,468.2 287.5,466.7" fill="#2b80ba"/>
<polygon points="301,470.6 306,470 311,470.8 310.5,472.2 301.5,472.2" fill="#2b80ba"/>
<polygon points="306.3,475.5 309,475 309.4,477.2 307,477.5" fill="#2b80ba"/>
<polygon points="312.4,474.2 316,473.4 321.4,475.7 323.7,478.7 318.4,480.2 315.4,478" fill="#2b80ba"/>
<polygon points="312.4,481.5 314.6,481 314,482.7" fill="#2b80ba"/>
<polygon points="326,487 330.5,487.8 336.5,492.3 344,499.8 341,504.4 333.5,507.4 330.5,510.4 326,507.4 323,498.3 324.4,492.3" fill="#e0e0e0" stroke="#bdbdbd" stroke-width="0.5"/>
</svg>
<div style="position:absolute;left:476.5px;top:422.6px;font-size:9.6px;line-height:10.3px;letter-spacing:-0.1px;color:#2a2a2a;white-space:nowrap;">Quintile of fatal police<br>violence rate (per 100k)</div>
<div style="position:absolute;left:476.2px;top:449.4px;width:26.8px;height:13px;background:#2b80ba;"></div>
<div style="position:absolute;left:508.6px;top:449.4px;font-size:9.6px;line-height:13px;letter-spacing:-0.2px;color:#2a2a2a;white-space:nowrap;">1 (0.13 - 0.29)</div>
<div style="position:absolute;left:476.2px;top:467.4px;width:26.8px;height:13px;background:#a8c4e0;"></div>
<div style="position:absolute;left:508.6px;top:467.4px;font-size:9.6px;line-height:13px;letter-spacing:-0.2px;color:#2a2a2a;white-space:nowrap;">2 (0.30 - 0.34)</div>
<div style="position:absolute;left:476.2px;top:485.4px;width:26.8px;height:13px;background:#fcf7a6;"></div>
<div style="position:absolute;left:508.6px;top:485.4px;font-size:9.6px;line-height:13px;letter-spacing:-0.2px;color:#2a2a2a;white-space:nowrap;">3 (0.35 - 0.42)</div>
<div style="position:absolute;left:476.2px;top:503.4px;width:26.8px;height:13px;background:#f59a50;"></div>
<div style="position:absolute;left:508.6px;top:503.4px;font-size:9.6px;line-height:13px;letter-spacing:-0.2px;color:#2a2a2a;white-space:nowrap;">4 (0.43 - 0.53)</div>
<div style="position:absolute;left:476.2px;top:521.4px;width:26.8px;height:13px;background:#e3141c;"></div>
<div style="position:absolute;left:508.6px;top:521.4px;font-size:9.6px;line-height:13px;letter-spacing:-0.2px;color:#2a2a2a;white-space:nowrap;">5 (0.54 - 1.17)</div>
<div style="position:absolute;left:701.5px;top:549px;font-size:11.5px;line-height:12px;color:#f2c2c7;white-space:nowrap;transform:scaleX(0.85);transform-origin:0 0;">SCIENCEAQ.COM</div>
</body></html>
